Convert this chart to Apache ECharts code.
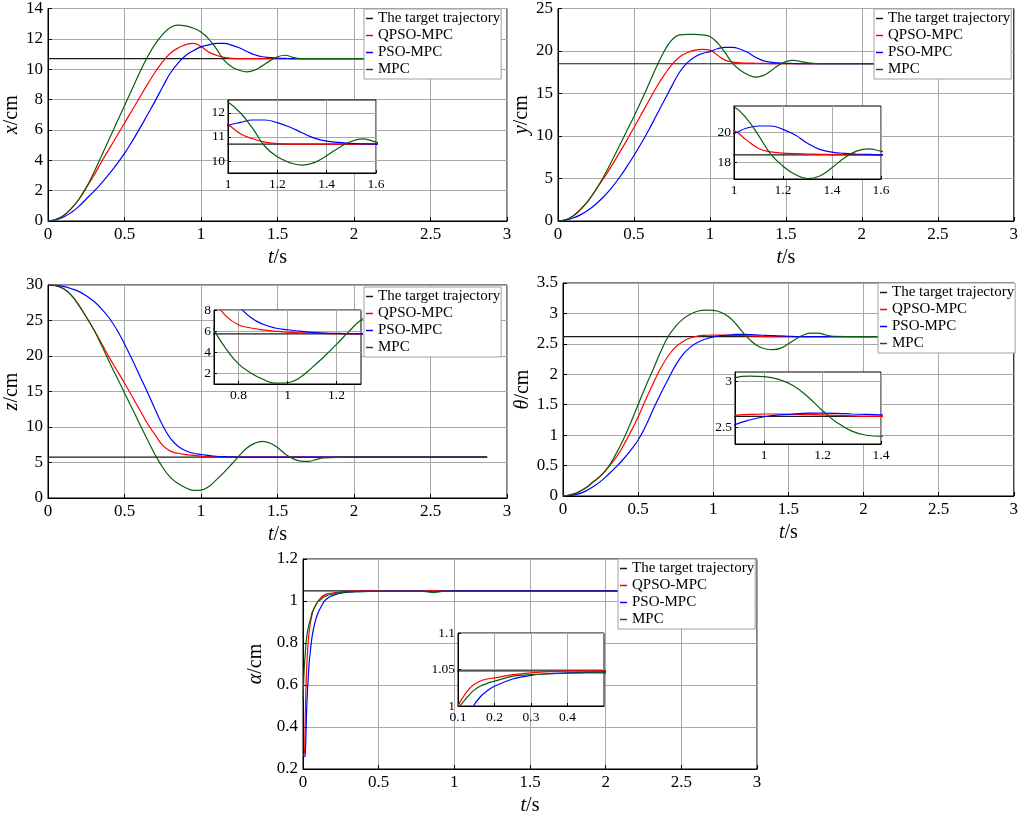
<!DOCTYPE html>
<html><head><meta charset="utf-8">
<script src="https://cdn.jsdelivr.net/npm/echarts@6/dist/echarts.min.js"></script>
<style>html,body{margin:0;padding:0;background:#fff}#c{width:1021px;height:817px}</style>
</head><body><div id="c"></div>
<script>
// ---------------- data ----------------
const seriesNames = ['The target trajectory', 'QPSO-MPC', 'PSO-MPC', 'MPC'];

// x (cm) and y (cm) share the time base
const t12 = [0,0.05,0.1,0.15,0.2,0.25,0.3,0.35,0.4,0.45,0.5,0.55,0.6,0.65,0.7,0.75,0.8,0.85,0.9,0.95,1,1.05,1.1,1.15,1.2,1.25,1.3,1.35,1.4,1.45,1.5,1.55,1.6,1.65,1.7,1.8,2.0,2.2];
const xTarget = 10.7;
const xQPSO = [0,0.1,0.35,0.8,1.4,2.2,3.0,3.9,4.75,5.6,6.45,7.3,8.15,9.0,9.8,10.5,11.05,11.4,11.62,11.7,11.5,11.13,10.92,10.78,10.72,10.7,10.7,10.7,10.7,10.7,10.7,10.7,10.7,10.7,10.7,10.7,10.7,10.7];
const xPSO  = [0,0.07,0.25,0.55,0.95,1.45,1.95,2.5,3.1,3.75,4.45,5.25,6.1,7.0,7.9,8.85,9.75,10.4,10.9,11.22,11.47,11.6,11.7,11.7,11.59,11.41,11.17,10.95,10.82,10.77,10.73,10.71,10.7,10.7,10.7,10.7,10.7,10.7];
const xMPC  = [0,0.1,0.35,0.8,1.4,2.2,3.2,4.3,5.4,6.5,7.6,8.7,9.8,10.8,11.65,12.3,12.75,12.9,12.85,12.7,12.45,12.0,11.35,10.6,10.17,9.93,9.83,9.93,10.22,10.55,10.82,10.92,10.78,10.7,10.7,10.7,10.7,10.7];

const yTarget = 18.5;
const yQPSO = [0,0.15,0.6,1.4,2.4,3.7,5.0,6.4,7.9,9.4,11.0,12.6,14.2,15.8,17.2,18.4,19.3,19.8,20.1,20.2,20.1,19.5,18.93,18.7,18.62,18.58,18.56,18.54,18.52,18.5,18.5,18.5,18.5,18.5,18.5,18.5,18.5,18.5];
const yPSO  = [0,0.1,0.35,0.75,1.3,2.0,2.85,3.85,5.0,6.3,7.7,9.2,10.8,12.5,14.2,15.9,17.5,18.6,19.3,19.7,19.93,20.27,20.42,20.42,20.2,19.82,19.27,18.87,18.69,18.6,18.56,18.53,18.5,18.5,18.5,18.5,18.5,18.5];
const yMPC  = [0,0.15,0.6,1.4,2.4,3.7,5.2,6.9,8.7,10.5,12.3,14.2,16.2,18.2,20.0,21.3,21.9,21.95,21.95,21.9,21.7,20.95,19.8,18.55,17.75,17.2,16.93,17.1,17.65,18.3,18.75,18.9,18.75,18.6,18.52,18.5,18.5,18.5];

// z (cm)
const t3 = [0,0.05,0.1,0.15,0.2,0.25,0.3,0.35,0.4,0.45,0.5,0.55,0.6,0.65,0.7,0.75,0.8,0.85,0.9,0.95,1,1.05,1.1,1.15,1.2,1.25,1.3,1.35,1.4,1.45,1.5,1.55,1.6,1.65,1.7,1.75,1.8,2.0,2.2,2.5,2.87];
const zTarget = 5.75;
const zQPSO = [30,29.9,29.5,28.6,27.2,25.5,23.7,21.8,19.8,18.0,16.2,14.3,12.4,10.5,8.9,7.4,6.6,6.3,6.12,6.0,5.9,5.85,5.8,5.78,5.76,5.75,5.75,5.75,5.75,5.75,5.75,5.75,5.75,5.75,5.75,5.75,5.75,5.75,5.75,5.75,5.75];
const zPSO  = [30,29.95,29.8,29.5,29.1,28.5,27.7,26.65,25.35,23.7,21.7,19.5,17.2,14.9,12.5,10.2,8.4,7.3,6.65,6.3,6.13,6.0,5.88,5.82,5.78,5.76,5.75,5.75,5.75,5.75,5.75,5.75,5.75,5.75,5.75,5.75,5.75,5.75,5.75,5.75,5.75];
const zMPC  = [30,29.9,29.5,28.6,27.2,25.5,23.7,21.5,19.2,17.0,14.8,12.6,10.4,8.2,6.1,4.3,2.9,2.05,1.45,1.08,1.12,1.6,2.55,3.6,4.75,5.95,7.05,7.7,7.97,7.75,7.1,6.2,5.55,5.2,5.15,5.4,5.65,5.75,5.75,5.75,5.75];

// theta (cm)
const t4 = [0,0.05,0.1,0.15,0.2,0.25,0.3,0.35,0.4,0.45,0.5,0.55,0.6,0.65,0.7,0.75,0.8,0.85,0.9,0.95,1,1.05,1.1,1.15,1.2,1.25,1.3,1.35,1.4,1.45,1.5,1.55,1.6,1.65,1.7,1.75,1.8,2.0,2.2];
const thTarget = 2.62;
const thQPSO = [0,0.02,0.06,0.13,0.23,0.33,0.47,0.62,0.82,1.05,1.3,1.58,1.85,2.1,2.3,2.45,2.54,2.6,2.63,2.64,2.645,2.645,2.64,2.64,2.635,2.63,2.625,2.62,2.62,2.62,2.62,2.62,2.62,2.62,2.62,2.62,2.62,2.62,2.62];
const thPSO  = [0,0.01,0.03,0.08,0.15,0.24,0.35,0.47,0.6,0.75,0.92,1.15,1.42,1.68,1.92,2.15,2.33,2.45,2.53,2.58,2.615,2.635,2.645,2.655,2.655,2.652,2.645,2.64,2.635,2.63,2.625,2.62,2.62,2.62,2.62,2.62,2.62,2.62,2.62];
const thMPC  = [0,0.02,0.06,0.13,0.23,0.33,0.47,0.68,0.92,1.2,1.5,1.8,2.08,2.37,2.62,2.79,2.91,2.99,3.04,3.055,3.05,3.02,2.95,2.83,2.68,2.55,2.46,2.415,2.405,2.43,2.5,2.58,2.645,2.675,2.675,2.645,2.625,2.62,2.62];

// alpha (cm)
const t5 = [0,0.005,0.01,0.015,0.02,0.025,0.03,0.04,0.05,0.06,0.07,0.08,0.09,0.1,0.11,0.125,0.14,0.16,0.18,0.2,0.25,0.3,0.35,0.4,0.5,0.6,0.7,0.8,0.83,0.86,0.89,0.92,1.0,1.5,2.1];
const aTarget = 1.048;
const aQPSO = [0.27,0.27,0.27,0.45,0.6,0.69,0.76,0.85,0.9,0.935,0.96,0.975,0.988,1.0,1.009,1.02,1.028,1.034,1.037,1.0385,1.043,1.0455,1.047,1.048,1.048,1.048,1.048,1.048,1.048,1.048,1.048,1.048,1.048,1.048,1.048];
const aPSO  = [0.26,0.26,0.26,0.26,0.38,0.5,0.58,0.7,0.77,0.83,0.87,0.9,0.925,0.945,0.96,0.98,0.998,1.012,1.021,1.027,1.037,1.042,1.0445,1.0455,1.0465,1.047,1.047,1.047,1.045,1.042,1.045,1.047,1.048,1.048,1.048];
const aMPC  = [0.53,0.63,0.7,0.75,0.8,0.83,0.855,0.89,0.915,0.945,0.96,0.975,0.988,0.998,1.003,1.012,1.02,1.027,1.031,1.034,1.041,1.043,1.044,1.045,1.0455,1.0455,1.0455,1.0455,1.043,1.04,1.043,1.0455,1.046,1.046,1.046];

// tick values
const mainXTicks = {min: 0, max: 3, interval: 0.5};
const insetTicks = [
  {x: [1, 1.2, 1.4, 1.6], y: [10, 11, 12]},
  {x: [1, 1.2, 1.4, 1.6], y: [18, 20]},
  {x: [0.8, 1, 1.2], y: [2, 4, 6, 8]},
  {x: [1, 1.2, 1.4], y: [2.5, 3]},
  {x: [0.1, 0.2, 0.3, 0.4], y: [1, 1.05, 1.1]}
];

// ---------------- build ----------------
const FONT = 'Liberation Serif';
const colors = ['#1a1a1a', '#ff0000', '#0000ff', '#0b5e0b'];
const gridColor = '#a8a8a8';
const pairs = (t, v) => t.map((x, i) => [x, v[i]]);
const flat = (t, c) => [[t[0], c], [t[t.length - 1], c]];

const plots = [
  {t: t12, tgt: xTarget, s: [xQPSO, xPSO, xMPC], yname: '{i|x}/cm', ymin: 0, ymax: 14, yint: 2, sm: 0.45,
   rect: {left: 48, top: 7, width: 459, height: 214}, ngap: 17,
   legend: {left: 364, top: 9},
   inset: {rect: {left: 228, top: 100, width: 148, height: 73}, xmin: 1, xmax: 1.6, ymin: 9.5, ymax: 12.53}},
  {t: t12, tgt: yTarget, s: [yQPSO, yPSO, yMPC], yname: '{i|y}/cm', ymin: 0, ymax: 25, yint: 5, sm: 0.45,
   rect: {left: 558, top: 7, width: 459, height: 214}, ngap: 20,
   legend: {left: 874, top: 9},
   inset: {rect: {left: 734, top: 106, width: 147, height: 73}, xmin: 1, xmax: 1.6, ymin: 16.9, ymax: 21.75}},
  {t: t3, tgt: zTarget, s: [zQPSO, zPSO, zMPC], yname: '{i|z}/cm', ymin: 0, ymax: 30, yint: 5, sm: 0.45,
   rect: {left: 48, top: 285, width: 459, height: 213}, ngap: 25,
   legend: {left: 364, top: 287},
   inset: {rect: {left: 214, top: 310, width: 147, height: 74}, xmin: 0.7, xmax: 1.3, ymin: 1, ymax: 8}},
  {t: t4, tgt: thTarget, s: [thQPSO, thPSO, thMPC], yname: '{i|θ}/cm', ymin: 0, ymax: 3.5, yint: 0.5, sm: 0.45,
   rect: {left: 563, top: 283, width: 454, height: 213}, ngap: 26,
   legend: {left: 878, top: 283},
   inset: {rect: {left: 735, top: 372, width: 146, height: 72}, xmin: 0.9, xmax: 1.4, ymin: 2.32, ymax: 3.1}},
  {t: t5, tgt: aTarget, s: [aQPSO, aPSO, aMPC], yname: '{i|α}/cm', ymin: 0.2, ymax: 1.2, yint: 0.2, sm: 0.15,
   rect: {left: 303, top: 559, width: 454, height: 212}, ngap: 37,
   legend: {left: 618, top: 559},
   inset: {rect: {left: 458, top: 633, width: 146, height: 73}, xmin: 0.1, xmax: 0.5, ymin: 1, ymax: 1.1}}
];

const grid = [], xAxis = [], yAxis = [], series = [], legend = [];
const nameStyle = {fontFamily: FONT, fontSize: 20, color: '#000',
  rich: {i: {fontFamily: FONT, fontSize: 20, fontStyle: 'italic', color: '#000'}}};

plots.forEach((p, k) => {
  const gi = grid.length;
  grid.push(Object.assign({show: true, borderColor: '#000', borderWidth: 1, backgroundColor: 'transparent', containLabel: false}, p.rect));
  xAxis.push({gridIndex: gi, type: 'value', min: mainXTicks.min, max: mainXTicks.max, interval: mainXTicks.interval,
    name: '{i|t}/s', nameLocation: 'middle', nameGap: 27, nameTextStyle: nameStyle,
    axisLine: {show: true, onZero: false, lineStyle: {color: '#000', width: 1}},
    axisTick: {show: true, inside: true, length: 4, lineStyle: {color: '#000'}},
    axisLabel: {fontFamily: FONT, fontSize: 17, color: '#000', margin: 5},
    splitLine: {show: true, lineStyle: {color: gridColor, width: 1}}});
  yAxis.push({gridIndex: gi, type: 'value', min: p.ymin, max: p.ymax, interval: p.yint,
    name: p.yname, nameLocation: 'middle', nameGap: p.ngap, nameRotate: 90, nameTextStyle: nameStyle,
    axisLine: {show: true, onZero: false, lineStyle: {color: '#000', width: 1}},
    axisTick: {show: true, inside: true, length: 4, lineStyle: {color: '#000'}},
    axisLabel: {fontFamily: FONT, fontSize: 17, color: '#000', margin: 5},
    splitLine: {show: true, lineStyle: {color: gridColor, width: 1}}});
  const addSeries = (ai, z) => {
    series.push({type: 'line', name: seriesNames[0], xAxisIndex: ai, yAxisIndex: ai, data: flat(p.t, p.tgt),
      symbol: 'none', lineStyle: {color: colors[0], width: 1.2}, itemStyle: {color: colors[0]}, z: z, silent: true});
    p.s.forEach((arr, j) => {
      series.push({type: 'line', name: seriesNames[j + 1], xAxisIndex: ai, yAxisIndex: ai, data: pairs(p.t, arr),
        symbol: 'none', smooth: p.sm,
        lineStyle: {color: colors[j + 1], width: 1.2}, itemStyle: {color: colors[j + 1]}, z: z, silent: true});
    });
  };
  addSeries(gi, 2);

  const ii = grid.length;
  const ins = p.inset, tk = insetTicks[k];
  grid.push(Object.assign({show: true, borderColor: '#000', borderWidth: 1, backgroundColor: '#fff', z: 10}, ins.rect));
  xAxis.push({gridIndex: ii, type: 'value', min: ins.xmin, max: ins.xmax, z: 11,
    axisLine: {show: true, onZero: false, lineStyle: {color: '#000'}},
    axisTick: {show: true, inside: true, length: 3, customValues: tk.x, lineStyle: {color: '#000'}},
    axisLabel: {fontFamily: FONT, fontSize: 13.5, color: '#000', margin: 4, customValues: tk.x},
    splitLine: {show: true, lineStyle: {color: gridColor, width: 1}}});
  yAxis.push({gridIndex: ii, type: 'value', min: ins.ymin, max: ins.ymax, z: 11,
    axisLine: {show: true, onZero: false, lineStyle: {color: '#000'}},
    axisTick: {show: true, inside: true, length: 3, customValues: tk.y, lineStyle: {color: '#000'}},
    axisLabel: {fontFamily: FONT, fontSize: 13.5, color: '#000', margin: 3, customValues: tk.y},
    splitLine: {show: true, lineStyle: {color: gridColor, width: 1}}});
  addSeries(ii, 12);

  legend.push({left: p.legend.left, top: p.legend.top, orient: 'vertical',
    data: seriesNames.map(n => ({name: n, icon: 'rect'})),
    itemWidth: 7, itemHeight: 1.5, itemGap: 2, padding: [2, 1, 2, 2],
    backgroundColor: '#fff', borderColor: '#a0a0a0', borderWidth: 1,
    selectedMode: false, z: 5,
    textStyle: {fontFamily: FONT, fontSize: 15, color: '#000', lineHeight: 15}});
});

const chart = echarts.init(document.getElementById('c'), null, {renderer: 'canvas'});
chart.setOption({animation: false, backgroundColor: '#fff', grid, xAxis, yAxis, series, legend});
</script>
</body></html>
